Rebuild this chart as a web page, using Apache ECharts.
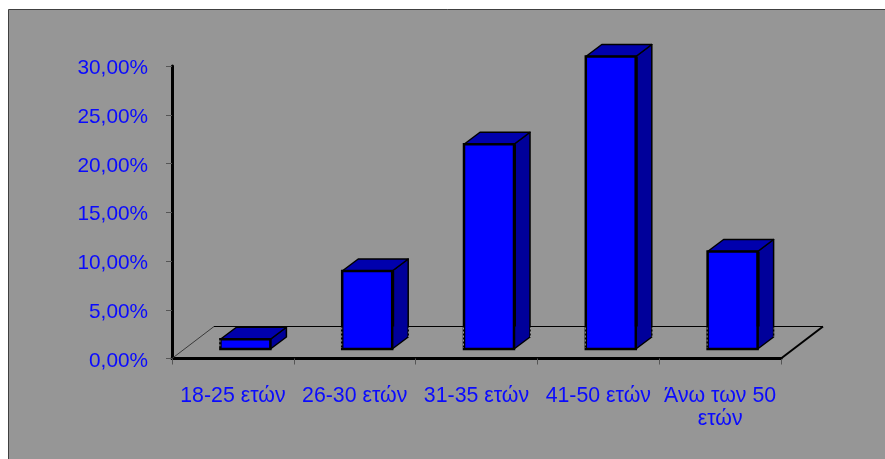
<!DOCTYPE html>
<html>
<head>
<meta charset="utf-8">
<style>html,body{margin:0;padding:0;background:#fff}#chart{width:885px;height:459px}</style>
<script src="https://cdn.jsdelivr.net/npm/echarts@6/dist/echarts.min.js"></script>
</head>
<body>
<div id="chart"></div>
<script>
// Age groups and their share of respondents (%)
const categories = ['18-25 ετών', '26-30 ετών', '31-35 ετών', '41-50 ετών', 'Άνω των 50\nετών'];
const shares = [1, 8, 21, 30, 10];
const yTicks = [0, 5, 10, 15, 20, 25, 30];

// Oblique projection: the bars stand part-way into a floor of the given depth
const FLOOR_DEPTH = [42, -32];
const BAR_SHIFT = [12.5, -9.5];
const BAR_DEPTH = [16, -12];
const BAR_WIDTH = 50;

const FRONT = '#0000ff', TOP = '#0000ad', SIDE = '#00009a', EDGE = '#000000';
const BACKDROP = '#969696', TEXT = '#0a0aff';

function renderFloor(params, api) {
  const mid = api.coord([0, 0]);
  const band = api.size([1, 0])[0];
  const x0 = mid[0] - band / 2, x1 = x0 + band * categories.length, y0 = mid[1];
  const backY = y0 + FLOOR_DEPTH[1];
  return {
    type: 'group',
    children: [
      { type: 'line', shape: { x1: x0, y1: y0, x2: x0 + FLOOR_DEPTH[0], y2: backY }, style: { stroke: '#3a3a3a', lineWidth: 1 } },
      { type: 'line', shape: { x1: x0 + FLOOR_DEPTH[0], y1: backY, x2: x1 + FLOOR_DEPTH[0], y2: backY }, style: { stroke: EDGE, lineWidth: 1 } },
      { type: 'line', shape: { x1: x1, y1: y0, x2: x1 + FLOOR_DEPTH[0], y2: backY }, style: { stroke: EDGE, lineWidth: 2 } }
    ]
  };
}

function renderBar(params, api) {
  const base = api.coord([api.value(0), 0]);
  const peak = api.coord([api.value(0), api.value(1)]);
  const l = base[0] + BAR_SHIFT[0] - BAR_WIDTH / 2, r = l + BAR_WIDTH;
  const b = base[1] + BAR_SHIFT[1], t = peak[1] + BAR_SHIFT[1];
  const dx = BAR_DEPTH[0], dy = BAR_DEPTH[1];
  const edge = { stroke: EDGE, lineWidth: 1.5, lineJoin: 'round' };
  const backY = base[1] + FLOOR_DEPTH[1];
  const children = [
    { type: 'polygon', shape: { points: [[r, t], [r + dx, t + dy], [r + dx, b + dy], [r, b]] }, style: { fill: SIDE, ...edge } },
    { type: 'polygon', shape: { points: [[l, t], [l + dx, t + dy], [r + dx, t + dy], [r, t]] }, style: { fill: TOP, ...edge } },
    { type: 'rect', shape: { x: l, y: t, width: BAR_WIDTH, height: b - t }, style: { fill: FRONT, stroke: EDGE, lineWidth: 2.5 } }
  ];
  // Heavy divider between front and side, down to the floor's back edge
  if (t < backY) {
    children.push({ type: 'line', shape: { x1: r + 0.5, y1: t, x2: r + 0.5, y2: backY }, style: { stroke: EDGE, lineWidth: 3 } });
  }
  // Broken outline where the bar stands on the floor
  const stepped = { stroke: BACKDROP, lineWidth: 1, lineDash: [2, 2] };
  const from = Math.max(t, backY) + 1;
  children.push(
    { type: 'line', shape: { x1: l - 0.5, y1: from, x2: l - 0.5, y2: b - 1 }, style: stepped },
    { type: 'line', shape: { x1: r + dx + 0.5, y1: from, x2: r + dx + 0.5, y2: b + dy }, style: stepped }
  );
  return { type: 'group', children };
}

const chart = echarts.init(document.getElementById('chart'), null, { renderer: 'canvas' });
chart.setOption({
  animation: false,
  backgroundColor: '#ffffff',
  graphic: [{
    type: 'rect', z: -10,
    shape: { x: 8.5, y: 9.5, width: 890, height: 460 },
    style: { fill: BACKDROP, stroke: '#404040', lineWidth: 1 }
  }],
  grid: { left: 172, right: 104, top: 66, bottom: 100.5, containLabel: false },
  xAxis: {
    type: 'category',
    data: categories,
    boundaryGap: true,
    axisLine: { show: true, lineStyle: { color: EDGE, width: 3 } },
    axisTick: { show: true, alignWithLabel: false, length: 6, lineStyle: { color: '#555555', width: 1 } },
    axisLabel: {
      interval: 0, margin: 26, color: TEXT, fontFamily: 'Liberation Sans', fontSize: 21.3, lineHeight: 23,
      align: 'center', verticalAlign: 'top'
    }
  },
  yAxis: {
    type: 'value', min: 0, max: 30, interval: 5,
    splitLine: { show: false },
    axisLine: { show: true, lineStyle: { color: EDGE, width: 3 } },
    axisTick: { show: true, length: 6, lineStyle: { color: '#555555', width: 1 } },
    axisLabel: {
      margin: 24, color: TEXT, fontFamily: 'Liberation Sans', fontSize: 20.8, lineHeight: 5,
      // The empty first line sets the label just below its tick
      formatter: v => yTicks.includes(v) ? '\n' + v.toFixed(2).replace('.', ',') + '%' : ''
    }
  },
  series: [
    { type: 'custom', name: 'floor', data: [[0, 0]], renderItem: renderFloor, encode: { x: 0, y: 1 }, silent: true, z: 1, clip: false },
    { type: 'custom', name: 'shares', data: shares.map((v, i) => [i, v]), renderItem: renderBar, encode: { x: 0, y: 1 }, z: 2, clip: false }
  ]
});
</script>
</body>
</html>
